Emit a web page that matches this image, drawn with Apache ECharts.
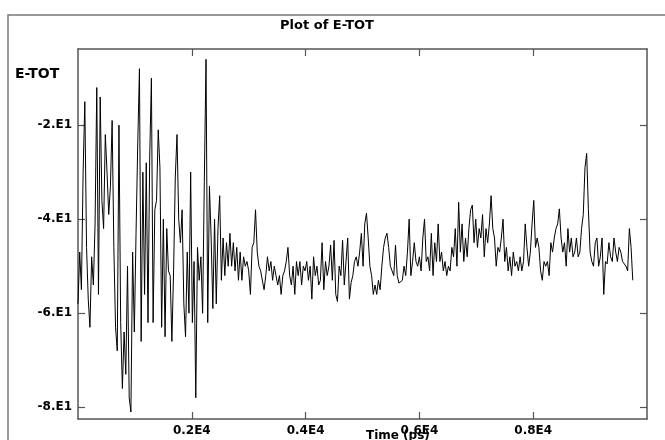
<!DOCTYPE html>
<html>
<head>
<meta charset="utf-8">
<title>Plot of E-TOT</title>
<script src="https://cdn.jsdelivr.net/npm/echarts@6/dist/echarts.min.js"></script>
<style>
  html, body { margin: 0; padding: 0; background: #fff; }
  #chart { width: 665px; height: 440px; }
</style>
</head>
<body>
<div id="chart"></div>
<script>
// sampling interval of the trace (ps)
const stepPs = 30

// E-TOT, one value per step
const eTot = [
  -58, -47, -55, -30, -15, -46, -57, -63, -48, -54,
  -41, -12, -56, -14, -36, -42, -22, -30, -39, -33,
  -19, -46, -63, -68, -20, -62, -76, -64, -73, -50,
  -78, -81, -47, -64, -43, -24, -8, -66, -30, -56,
  -28, -62, -27, -10, -62, -38, -36, -21, -29, -63,
  -40, -65, -42, -51, -52, -66, -51, -31, -22, -40,
  -45, -38, -58, -65, -47, -60, -30, -62, -49, -78,
  -46, -53, -48, -60, -32, -6, -62, -33, -44, -59,
  -40, -58, -42, -35, -53, -44, -52, -45, -50, -43,
  -50, -45, -51, -46, -53, -47, -53, -48, -50, -49,
  -51, -56, -46, -45, -38, -47, -50, -51, -51, -55,
  -52, -48, -51, -49, -53, -50, -52, -54, -52, -56,
  -52, -51, -49, -46, -52, -54, -50, -56, -49, -52,
  -49, -54, -50, -51, -49, -53, -50, -57, -48, -52,
  -50, -54, -53, -45, -55, -49, -52, -50, -45.5, -53,
  -44.5, -56, -57.5, -50, -52, -44.5, -54, -49, -44, -57,
  -53.5, -52, -49, -48, -50, -47, -43, -50, -41, -38.7,
  -44, -50, -52, -56, -54, -56, -53, -55, -50, -46,
  -44, -43, -46, -50, -51, -52, -45.5, -52, -53.6, -53.6,
  -53, -50, -52, -47, -40, -52, -49, -45, -49, -50,
  -48, -51, -44, -40, -49, -48, -51, -43, -52, -45,
  -49, -41, -49, -47, -51, -49, -52, -50, -51, -46,
  -48, -42, -50, -36.4, -47, -41, -49, -44, -48, -42,
  -38, -37, -45, -40, -46, -42, -44, -39, -48, -42,
  -45, -41, -35, -42, -44, -50, -46, -47, -44, -40,
  -49, -46, -51, -48, -52, -47, -50, -49, -51, -48,
  -51, -49, -41, -46, -50, -47, -41, -36, -46, -44,
  -46, -51, -53, -49, -50, -49, -52, -45, -47, -44,
  -42, -41, -37.8, -44, -47, -45, -50, -42, -47, -44,
  -48, -47, -44, -48, -47, -42, -39, -29, -26, -38,
  -47, -49, -50, -45, -44, -50, -48, -44, -56, -49,
  -49.5, -45, -48, -49, -44, -47, -49, -46, -47, -49,
  -49, -50, -51, -42, -46, -53
]

// axis ticks and their labels
const xTickValues = [2000, 4000, 6000, 8000]
const xTickLabels = ['0.2E4', '0.4E4', '0.6E4', '0.8E4']
const yTickValues = [-20, -40, -60, -80]
const yTickLabels = ['-2.E1', '-4.E1', '-6.E1', '-8.E1']

const chart = echarts.init(document.getElementById('chart'))

const frameColor = '#555'
const labelFont = {
  color: '#000',
  fontFamily: 'DejaVu Sans',
  fontWeight: 'bold',
  fontSize: 12
}

function lookup (values, labels) {
  return function (v) {
    const i = values.indexOf(v)
    return i >= 0 ? labels[i] : ''
  }
}

const frameAxis = {
  axisLine: { show: true, onZero: false, lineStyle: { color: frameColor, width: 1.5 } },
  axisTick: { show: true, inside: true, length: 7, lineStyle: { color: frameColor, width: 1.2 } },
  splitLine: { show: false }
}

const option = {
  animation: false,
  backgroundColor: '#fff',
  title: {
    text: 'Plot of E-TOT',
    left: 322,
    top: 14,
    textAlign: 'center',
    textStyle: { color: '#000', fontFamily: 'DejaVu Sans', fontWeight: 'bold', fontSize: 13 }
  },
  grid: { left: 78, right: 18, top: 49, bottom: 21 },
  xAxis: [
    {
      type: 'value', position: 'bottom', min: 0, max: 10000,
      ...frameAxis,
      axisTick: { ...frameAxis.axisTick, customValues: xTickValues },
      axisLabel: { ...labelFont, margin: 6, customValues: xTickValues, formatter: lookup(xTickValues, xTickLabels) }
    },
    {
      type: 'value', position: 'top', min: 0, max: 10000,
      ...frameAxis,
      axisTick: { ...frameAxis.axisTick, customValues: xTickValues },
      axisLabel: { show: false }
    }
  ],
  yAxis: [
    {
      type: 'value', position: 'left', min: -82.5, max: -3.8,
      ...frameAxis,
      axisTick: { ...frameAxis.axisTick, customValues: yTickValues },
      axisLabel: { ...labelFont, margin: 6, customValues: yTickValues, formatter: lookup(yTickValues, yTickLabels) }
    },
    {
      type: 'value', position: 'right', min: -82.5, max: -3.8,
      ...frameAxis,
      axisTick: { ...frameAxis.axisTick, customValues: yTickValues },
      axisLabel: { show: false }
    }
  ],
  graphic: [
    // outer frame (runs off the bottom/right of the picture)
    { type: 'polyline', silent: true, shape: { points: [[8, 460], [8, 15], [680, 15]] },
      style: { stroke: '#777', lineWidth: 1.5, fill: null } },
    { type: 'text', left: 15, top: 67,
      style: { text: 'E-TOT', fill: '#000', font: 'bold 14px "DejaVu Sans"' } },
    { type: 'text', left: 366, top: 430,
      style: { text: 'Time (ps)', fill: '#000', font: 'bold 12px "DejaVu Sans"' } }
  ],
  series: [
    {
      name: 'E-TOT',
      type: 'line',
      xAxisIndex: 0,
      yAxisIndex: 0,
      showSymbol: false,
      lineStyle: { color: '#000', width: 1 },
      data: eTot.map((v, i) => [i * stepPs, v])
    }
  ]
}

chart.setOption(option)
</script>
</body>
</html>
